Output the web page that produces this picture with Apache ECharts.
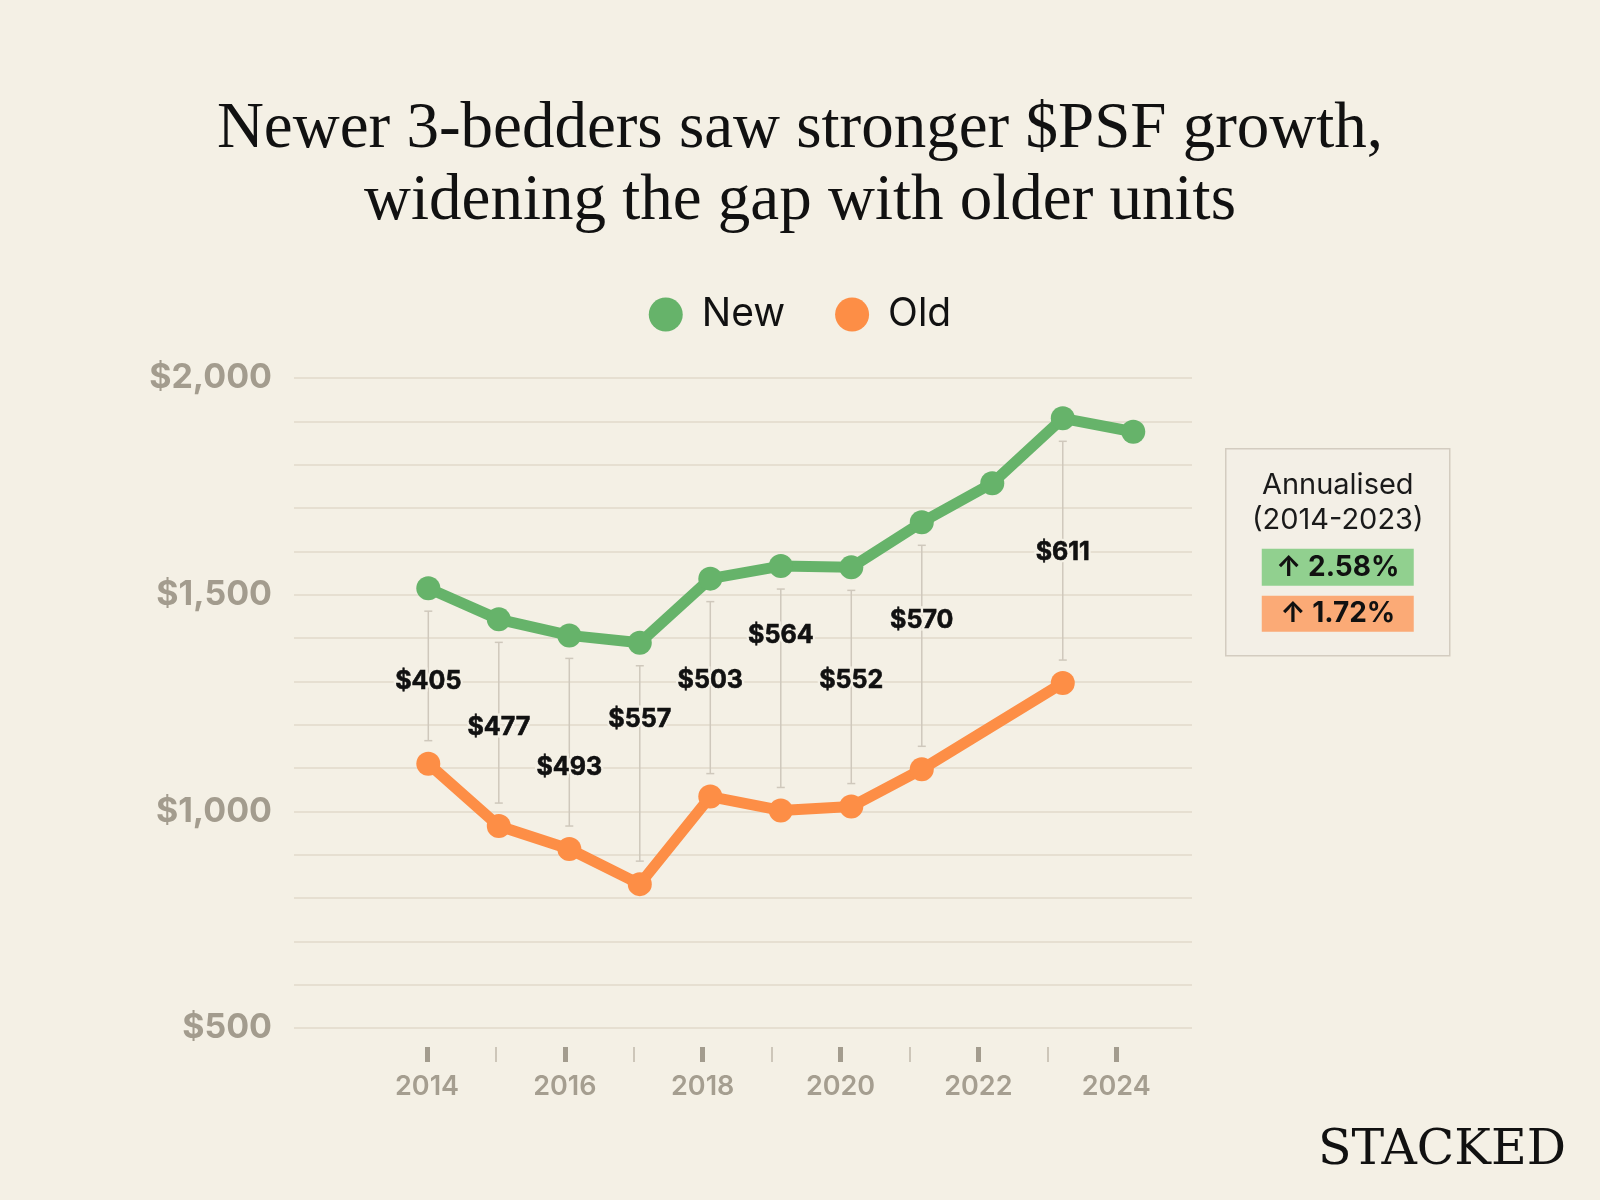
<!DOCTYPE html>
<html>
<head>
<meta charset="utf-8">
<title>Newer 3-bedders $PSF</title>
<script src="https://cdn.jsdelivr.net/npm/echarts@6/dist/echarts.min.js"></script>
<style>
  html, body { margin: 0; padding: 0; background: #f4f0e5; }
  #chart { width: 1600px; height: 1200px; }
</style>
</head>
<body>
<div id="chart"></div>
<script>
// data
const years = [2014, 2015, 2016, 2017, 2018, 2019, 2020, 2021, 2022, 2023, 2024];
const newPsf = [1515, 1443, 1406, 1389, 1537, 1566, 1563, 1667, 1757, 1907, 1876];
const oldPsf = [1110, 966, 913, 832, 1034, 1002, 1011, 1097, null, 1296, null];
// where the gap label sits (in $psf units on the y axis)
const gapLabelY = [1299, 1193, 1102, 1213, 1302, 1405, 1302, 1440, null, 1597, null];
const yLabelValues = [500, 1000, 1500, 2000];
const xMajorTicks = [2014, 2016, 2018, 2020, 2022, 2024];
const xMinorTicks = [2015, 2017, 2019, 2021, 2023];
const annualPeriod = '(2014-2023)';
const annualRates = ['2.58%', '1.72%'];

const BG = '#f4f0e5';
const GREEN = '#66b36a';
const ORANGE = '#fd8e46';
const SANS = 'Inter, "DejaVu Sans", sans-serif';

const chartDom = document.getElementById('chart');
let chart = echarts.getInstanceByDom(chartDom);
if (!chart) {
    chart = echarts.init(chartDom);
}

const newData = years.map((y, i) => [y, newPsf[i]]);
const oldData = years.map((y, i) => [y, oldPsf[i]]);
const gapData = [];
years.forEach((y, i) => {
    if (oldPsf[i] != null) gapData.push([y, newPsf[i], oldPsf[i], gapLabelY[i]]);
});

// x axis used for ticks / labels
const tickAxisBase = {
    type: 'value',
    position: 'bottom',
    min: 2012.07,
    max: 2025.1,
    offset: 19,
    axisLine: { show: false },
    splitLine: { show: false }
};

const option = {
    backgroundColor: BG,
    animation: false,
    title: {
        text: 'Newer 3-bedders saw stronger $PSF growth,\nwidening the gap with older units',
        left: 'center',
        top: 89,
        textStyle: {
            fontFamily: '"Liberation Serif", "DejaVu Serif", serif',
            fontWeight: 'normal',
            fontSize: 65,
            lineHeight: 72,
            color: '#111'
        }
    },
    legend: {
        data: ['New', 'Old'],
        left: 'center',
        top: 290,
        icon: 'circle',
        itemWidth: 34,
        itemHeight: 34,
        itemGap: 50,
        textStyle: {
            fontFamily: SANS,
            fontSize: 39,
            color: '#111',
            padding: [0, 0, 0, 14]
        }
    },
    grid: {
        left: 294,
        right: 408,
        top: 378,
        bottom: 172
    },
    xAxis: [
        {
            // data axis
            type: 'value',
            position: 'bottom',
            show: false,
            min: 2012.095,
            max: 2024.833,
            splitLine: { show: false }
        },
        Object.assign({}, tickAxisBase, {
            axisTick: {
                show: true,
                customValues: xMajorTicks,
                length: 15,
                lineStyle: { color: '#a39c8e', width: 5 }
            },
            axisLabel: {
                customValues: xMajorTicks,
                margin: 26,
                verticalAlign: 'top',
                fontFamily: SANS,
                fontWeight: 600,
                fontSize: 27,
                color: '#a59e90',
                formatter: v => String(v)
            }
        }),
        Object.assign({}, tickAxisBase, {
            axisTick: {
                show: true,
                customValues: xMinorTicks,
                length: 15,
                lineStyle: { color: '#cdc6b9', width: 2 }
            },
            axisLabel: { show: false }
        })
    ],
    yAxis: {
        type: 'value',
        min: 500,
        max: 2000,
        interval: 100,
        axisLine: { show: false },
        axisTick: { show: false },
        splitLine: { lineStyle: { color: '#e6dfd1', width: 2 } },
        axisLabel: {
            margin: 22,
            fontFamily: SANS,
            fontWeight: 'bold',
            fontSize: 34,
            color: '#a39c8e',
            formatter: v => yLabelValues.indexOf(v) >= 0 ? '$' + v.toLocaleString('en-US') : ''
        }
    },
    series: [
        {
            type: 'custom',
            name: 'gap',
            xAxisIndex: 0,
            z: 1,
            silent: true,
            encode: { x: 0, y: [1, 2] },
            data: gapData,
            renderItem: function (params, api) {
                const x = api.value(0);
                const hi = api.value(1);
                const lo = api.value(2);
                const top = api.coord([x, hi]);
                const bot = api.coord([x, lo]);
                const lab = api.coord([x, api.value(3)]);
                const cx = top[0];
                const y1 = top[1] + 23;
                const y2 = bot[1] - 23;
                const txt = '$' + Math.round(hi - lo);
                const lineStyle = { stroke: '#cfc8bc', lineWidth: 1.5 };
                const font = 'bold 25px ' + SANS;
                return {
                    type: 'group',
                    children: [
                        { type: 'line', shape: { x1: cx, y1: y1, x2: cx, y2: y2 }, style: lineStyle },
                        { type: 'line', shape: { x1: cx - 4, y1: y1, x2: cx + 4, y2: y1 }, style: lineStyle },
                        { type: 'line', shape: { x1: cx - 4, y1: y2, x2: cx + 4, y2: y2 }, style: lineStyle },
                        {
                            type: 'text', x: lab[0], y: lab[1],
                            style: { text: txt, font: font, fill: BG, stroke: BG, lineWidth: 5, align: 'center', verticalAlign: 'middle' }
                        },
                        {
                            type: 'text', x: lab[0], y: lab[1],
                            style: { text: txt, font: font, fill: '#111', stroke: '#111', lineWidth: 0.6, align: 'center', verticalAlign: 'middle' }
                        }
                    ]
                };
            }
        },
        {
            name: 'New',
            type: 'line',
            xAxisIndex: 0,
            z: 3,
            data: newData,
            symbol: 'circle',
            symbolSize: 24,
            color: GREEN,
            lineStyle: { width: 11, color: GREEN, join: 'round' },
            itemStyle: { color: GREEN },
            emphasis: { disabled: true }
        },
        {
            name: 'Old',
            type: 'line',
            xAxisIndex: 0,
            z: 3,
            data: oldData,
            connectNulls: true,
            symbol: 'circle',
            symbolSize: 24,
            color: ORANGE,
            lineStyle: { width: 11, color: ORANGE, join: 'round' },
            itemStyle: { color: ORANGE },
            emphasis: { disabled: true }
        }
    ],
    graphic: [
        {
            type: 'group',
            left: 1225,
            top: 448,
            children: [
                { type: 'rect', shape: { x: 0, y: 0, width: 224, height: 207 }, style: { fill: '#f3efe6', stroke: '#d3ccc0', lineWidth: 1.5 } },
                { type: 'text', x: 112, y: 37, style: { text: 'Annualised', font: '29px ' + SANS, fill: '#1a1a1a', align: 'center', verticalAlign: 'middle' } },
                { type: 'text', x: 112, y: 72, style: { text: annualPeriod, font: '29px ' + SANS, fill: '#1a1a1a', align: 'center', verticalAlign: 'middle' } },
                { type: 'rect', shape: { x: 36, y: 100, width: 152, height: 37 }, style: { fill: '#91d08f' } },
                { type: 'text', x: 112, y: 119, style: { text: '\u2191 ' + annualRates[0], font: 'bold 28px ' + SANS, fill: '#111', align: 'center', verticalAlign: 'middle' } },
                { type: 'rect', shape: { x: 36, y: 147, width: 152, height: 36 }, style: { fill: '#fbaa76' } },
                { type: 'text', x: 112, y: 165, style: { text: '\u2191 ' + annualRates[1], font: 'bold 28px ' + SANS, fill: '#111', align: 'center', verticalAlign: 'middle' } }
            ]
        },
        {
            type: 'text',
            right: 34,
            top: 1127,
            style: { text: 'STACKED', font: '49px "DejaVu Serif", serif', fill: '#111' }
        }
    ]
};

chart.setOption(option);
window.addEventListener('resize', () => {
    chart.resize();
});
</script>
</body>
</html>
